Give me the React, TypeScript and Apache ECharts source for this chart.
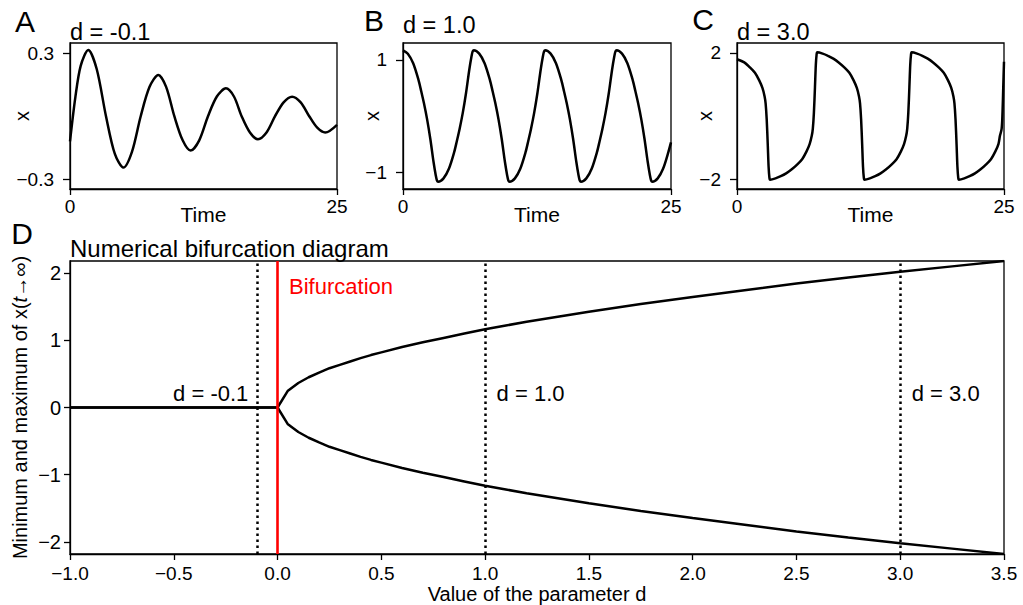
import React, { useEffect, useRef } from 'react';
import * as echarts from 'echarts';

const FONT = '"Liberation Sans", Arial, Helvetica, sans-serif';

// Panel parameters
const panelLetters = ['A', 'B', 'C', 'D'];
const panelD = [-0.1, 1.0, 3.0];

// Panel A: d = -0.1 (damped oscillation)
const timeA = [0, 0.5, 1.0, 1.71, 2.5, 3.37, 4.2, 5.0, 5.8, 6.62, 7.45, 8.27, 9.0, 9.77, 10.55, 11.3, 12.1, 12.92, 13.75, 14.6, 15.35, 16.07, 16.85, 17.6, 18.4, 19.2, 20.0, 20.8, 21.6, 22.4, 23.15, 23.9, 25];
const valuesA = [-0.12, 0.09, 0.24, 0.316, 0.225, 0, -0.18, -0.245, -0.17, 0, 0.14, 0.197, 0.14, 0, -0.115, -0.164, -0.115, 0, 0.094, 0.133, 0.094, 0, -0.078, -0.11, -0.078, 0, 0.066, 0.093, 0.066, 0, -0.055, -0.078, -0.041];

// Panel B: d = 1.0
const timeB = [0, 0.45, 0.95, 1.45, 1.7, 1.95, 2.25, 2.55, 2.85, 3.05, 3.17, 3.28,
  3.78, 4.28, 4.78, 5.03, 5.28, 5.58, 5.88, 6.18, 6.38, 6.5, 6.61,
  7.11, 7.61, 8.11, 8.36, 8.61, 8.91, 9.21, 9.51, 9.71, 9.83, 9.94,
  10.44, 10.94, 11.44, 11.69, 11.94, 12.24, 12.54, 12.84, 13.04, 13.16, 13.27,
  13.77, 14.27, 14.77, 15.02, 15.27, 15.57, 15.87, 16.17, 16.37, 16.49, 16.6,
  17.1, 17.6, 18.1, 18.35, 18.6, 18.9, 19.2, 19.5, 19.7, 19.82, 19.93,
  20.43, 20.93, 21.43, 21.68, 21.93, 22.23, 22.53, 22.83, 23.03, 23.15, 23.26,
  23.76, 24.26, 24.76, 25.0];
const valuesB = [1.17, 1.11, 0.94, 0.64, 0.44, 0.23, -0.06, -0.41, -0.82, -1.05, -1.15, -1.17,
  -1.11, -0.94, -0.64, -0.44, -0.23, 0.06, 0.41, 0.82, 1.05, 1.15, 1.17,
  1.11, 0.94, 0.64, 0.44, 0.23, -0.06, -0.41, -0.82, -1.05, -1.15, -1.17,
  -1.11, -0.94, -0.64, -0.44, -0.23, 0.06, 0.41, 0.82, 1.05, 1.15, 1.17,
  1.11, 0.94, 0.64, 0.44, 0.23, -0.06, -0.41, -0.82, -1.05, -1.15, -1.17,
  -1.11, -0.94, -0.64, -0.44, -0.23, 0.06, 0.41, 0.82, 1.05, 1.15, 1.17,
  1.11, 0.94, 0.64, 0.44, 0.23, -0.06, -0.41, -0.82, -1.05, -1.15, -1.17,
  -1.11, -0.94, -0.64, -0.47];

// Panel C: d = 3.0 (relaxation oscillation)
const timeC = [0, 0.68, 1.18, 1.68, 2.08, 2.38, 2.58, 2.68, 2.78, 2.88, 2.96, 3.03, 3.1,
  3.6, 4.1, 4.6, 5.1, 5.6, 6.1, 6.5, 6.8, 7.0, 7.1, 7.2, 7.3, 7.38, 7.45, 7.52,
  8.02, 8.52, 9.02, 9.52, 10.02, 10.52, 10.92, 11.22, 11.42, 11.52, 11.62, 11.72, 11.8, 11.87, 11.94,
  12.44, 12.94, 13.44, 13.94, 14.44, 14.94, 15.34, 15.64, 15.84, 15.94, 16.04, 16.14, 16.22, 16.29, 16.36,
  16.86, 17.36, 17.86, 18.36, 18.86, 19.36, 19.76, 20.06, 20.26, 20.36, 20.46, 20.56, 20.64, 20.71, 20.78,
  21.28, 21.78, 22.28, 22.78, 23.28, 23.78, 24.18, 24.48, 24.62, 24.78, 24.86, 24.93, 25.0];
const valuesC = [1.8, 1.7, 1.55, 1.37, 1.13, 0.89, 0.63, 0.4, -0.1, -0.91, -1.62, -1.94, -2.02,
  -1.98, -1.91, -1.82, -1.7, -1.55, -1.37, -1.13, -0.89, -0.63, -0.4, 0.1, 0.91, 1.62, 1.94, 2.02,
  1.98, 1.91, 1.82, 1.7, 1.55, 1.37, 1.13, 0.89, 0.63, 0.4, -0.1, -0.91, -1.62, -1.94, -2.02,
  -1.98, -1.91, -1.82, -1.7, -1.55, -1.37, -1.13, -0.89, -0.63, -0.4, 0.1, 0.91, 1.62, 1.94, 2.02,
  1.98, 1.91, 1.82, 1.7, 1.55, 1.37, 1.13, 0.89, 0.63, 0.4, -0.1, -0.91, -1.62, -1.94, -2.02,
  -1.98, -1.91, -1.82, -1.7, -1.55, -1.37, -1.13, -0.89, -0.63, -0.4, 0.1, 0.91, 1.72];

// Panel D: bifurcation diagram
const paramD = [-1.0, -0.5, 0, 0.05, 0.1, 0.15, 0.2, 0.25, 0.3, 0.35, 0.4, 0.45, 0.5, 0.6, 0.7, 0.8, 0.9, 1.0, 1.1, 1.2, 1.35, 1.5, 1.75, 2.0, 2.25, 2.5, 2.75, 3.0, 3.25, 3.5];
const maxD = [0, 0, 0, 0.25, 0.365, 0.45, 0.52, 0.585, 0.635, 0.685, 0.735, 0.78, 0.82, 0.9, 0.97, 1.035, 1.1, 1.165, 1.22, 1.275, 1.35, 1.425, 1.54, 1.645, 1.745, 1.845, 1.935, 2.02, 2.1, 2.18];
const minD = [0, 0, 0, -0.25, -0.365, -0.45, -0.52, -0.585, -0.635, -0.685, -0.735, -0.78, -0.82, -0.9, -0.97, -1.035, -1.1, -1.165, -1.22, -1.275, -1.35, -1.425, -1.54, -1.645, -1.745, -1.845, -1.935, -2.02, -2.1, -2.18];
const bifurcationPoint = 0;

// Tick labels
const ticksA = [-0.3, 0.3];
const ticksB = [-1, 1];
const ticksC = [-2, 2];
const ticksDy = [-2, -1, 0, 1, 2];

const minus = (s: string) => s.replace('-', '\u2212');

const zip = (xs: number[], ys: number[]) => xs.map((x, i) => [x, ys[i]]);

export default function App() {
  const ref = useRef<HTMLDivElement>(null);

  useEffect(() => {
    if (!ref.current) return;
    const chart = echarts.init(ref.current, undefined, { renderer: 'svg' });

    const axisCommon = {
      axisLine: { show: true, onZero: false, lineStyle: { color: '#000', width: 1.3 } },
      axisTick: { show: true, inside: false, length: 6, lineStyle: { color: '#000', width: 1.3 } },
      splitLine: { show: false },
      nameMoveOverlap: false,
    };

    const grids = [
      { left: 70, top: 43, width: 267, height: 146 },
      { left: 403, top: 43, width: 268, height: 146 },
      { left: 737, top: 43, width: 267, height: 146 },
      { left: 70, top: 261, width: 934, height: 293 },
    ].map((g) => ({
      ...g, show: true, borderColor: '#000', borderWidth: 1.3, backgroundColor: 'transparent',
      containLabel: false, outerBoundsMode: 'none',
    }));

    const timeX = (gi: number) => ({
      type: 'value', gridIndex: gi, min: 0, max: 25, interval: 25,
      ...axisCommon,
      axisLabel: { color: '#000', fontSize: 19, fontFamily: FONT, margin: 8 },
      name: 'Time', nameLocation: 'middle', nameGap: 15,
      nameTextStyle: { color: '#000', fontSize: 21, fontFamily: FONT },
    });

    const smallY = (gi: number, min: number, max: number, ticks: number[], dec: number, gap: number) => ({
      type: 'value', gridIndex: gi, min, max,
      ...axisCommon,
      axisTick: { ...axisCommon.axisTick, length: 7, customValues: ticks },
      axisLabel: {
        color: '#000', fontSize: 19, fontFamily: FONT, margin: 16, customValues: ticks,
        formatter: (v: number) => minus(v.toFixed(dec)),
      },
      name: 'x', nameLocation: 'middle', nameGap: gap, nameRotate: 90,
      nameTextStyle: { color: '#000', fontSize: 20, fontFamily: FONT },
    });

    const curve = (gi: number, t: number[], v: number[]) => ({
      type: 'line', xAxisIndex: gi, yAxisIndex: gi, data: zip(t, v),
      showSymbol: false, smooth: 0.3, lineStyle: { color: '#000', width: 2.5 }, z: 3,
    });

    const titleStyle = { fill: '#000', fontSize: 23.5, fontFamily: FONT };
    const letterStyle = { fill: '#000', fontSize: 30, fontFamily: FONT };
    const hidden = { color: 'rgba(0,0,0,0)', opacity: 1 };

    const option: any = {
      animation: false,
      backgroundColor: '#fff',
      grid: grids,
      xAxis: [
        timeX(0), timeX(1), timeX(2),
        {
          type: 'value', gridIndex: 3, min: -1, max: 3.5, interval: 0.5,
          ...axisCommon,
          axisLabel: { color: '#000', fontSize: 19, fontFamily: FONT, margin: 10, formatter: (v: number) => minus(v.toFixed(1)) },
          name: 'Value of the parameter d', nameLocation: 'middle', nameGap: 30,
          nameTextStyle: { color: '#000', fontSize: 20, fontFamily: FONT },
        },
      ],
      yAxis: [
        smallY(0, -0.347, 0.349, ticksA, 1, 38),
        smallY(1, -1.3, 1.3, ticksB, 0, 21),
        smallY(2, -2.316, 2.316, ticksC, 0, 22),
        {
          type: 'value', gridIndex: 3, min: -2.18, max: 2.18,
          ...axisCommon,
          axisTick: { ...axisCommon.axisTick, customValues: ticksDy },
          axisLabel: { color: '#000', fontSize: 20, fontFamily: FONT, margin: 9, customValues: ticksDy, formatter: (v: number) => minus(v.toFixed(0)) },
          name: 'Minimum and maximum of x({i|t}\u2192\u221e)', nameLocation: 'middle', nameGap: 40, nameRotate: 90,
          nameTextStyle: {
            color: '#000', fontSize: 20, fontFamily: FONT,
            rich: { i: { fontStyle: 'italic', fontSize: 20, fontFamily: FONT, color: '#000' } },
          },
        },
      ],
      series: [
        curve(0, timeA, valuesA),
        curve(1, timeB, valuesB),
        curve(2, timeC, valuesC),
        {
          type: 'line', xAxisIndex: 3, yAxisIndex: 3, data: zip(paramD, maxD),
          showSymbol: false, lineStyle: { color: '#000', width: 2.5 }, z: 3,
        },
        {
          type: 'line', xAxisIndex: 3, yAxisIndex: 3, data: zip(paramD, minD),
          showSymbol: false, lineStyle: { color: '#000', width: 2.5 }, z: 3,
          markLine: {
            silent: true, symbol: 'none', animation: false,
            label: { show: false },
            lineStyle: { color: '#000', width: 2.5, type: [2.5, 3.5] },
            data: panelD.map((v) => ({ xAxis: v })),
          },
        },
        {
          type: 'scatter', xAxisIndex: 3, yAxisIndex: 3, symbolSize: 1, z: 5,
          itemStyle: hidden,
          data: panelD.map((v) => ({
            value: [v, 0.21],
            label: {
              show: true, formatter: `d = ${v.toFixed(1)}`,
              position: v < 0 ? 'left' : 'right', distance: v < 0 ? 8 : 11,
              color: '#000', fontSize: 22, fontFamily: FONT, opacity: 1,
            },
          })),
          markLine: {
            silent: true, symbol: 'none', animation: false,
            label: { show: false },
            lineStyle: { color: '#ff0000', width: 2.6, type: 'solid' },
            data: [{ xAxis: bifurcationPoint }],
            z: 6,
          },
        },
        {
          type: 'scatter', xAxisIndex: 3, yAxisIndex: 3, symbolSize: 1, z: 5,
          itemStyle: hidden,
          data: [{
            value: [bifurcationPoint, 1.8],
            label: { show: true, formatter: 'Bifurcation', position: 'right', distance: 11, color: '#ff0000', fontSize: 22, fontFamily: FONT, opacity: 1 },
          }],
        },
      ],
      graphic: [
        { type: 'text', x: 25, y: 21, style: { ...letterStyle, text: panelLetters[0], align: 'center', verticalAlign: 'middle' } },
        { type: 'text', x: 374, y: 20, style: { ...letterStyle, text: panelLetters[1], align: 'center', verticalAlign: 'middle' } },
        { type: 'text', x: 703, y: 19, style: { ...letterStyle, text: panelLetters[2], align: 'center', verticalAlign: 'middle' } },
        { type: 'text', x: 22, y: 233, style: { ...letterStyle, text: panelLetters[3], align: 'center', verticalAlign: 'middle' } },
        { type: 'text', x: 70, y: 31.5, style: { ...titleStyle, text: `d = ${panelD[0].toFixed(1)}`, align: 'left', verticalAlign: 'middle' } },
        { type: 'text', x: 403, y: 25, style: { ...titleStyle, text: `d = ${panelD[1].toFixed(1)}`, align: 'left', verticalAlign: 'middle' } },
        { type: 'text', x: 737, y: 31.5, style: { ...titleStyle, text: `d = ${panelD[2].toFixed(1)}`, align: 'left', verticalAlign: 'middle' } },
        { type: 'text', x: 70, y: 248, style: { ...titleStyle, fontSize: 24, text: 'Numerical bifurcation diagram', align: 'left', verticalAlign: 'middle' } },
      ],
    };

    chart.setOption(option);
    return () => chart.dispose();
  }, []);

  return (
    <div
      ref={ref}
      style={{ position: 'absolute', left: 0, top: 0, width: 1023, height: 605, background: '#fff' }}
    />
  );
}
